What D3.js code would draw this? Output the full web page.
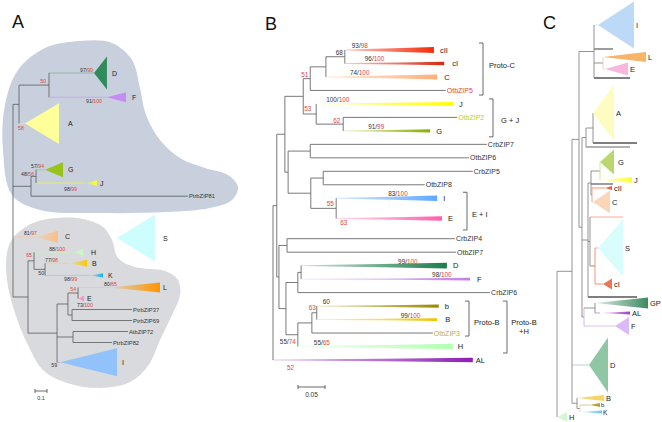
<!DOCTYPE html>
<html><head><meta charset="utf-8">
<script src="https://cdn.jsdelivr.net/npm/d3@7/dist/d3.min.js"></script>
<style>html,body{margin:0;padding:0;background:#fff}svg{display:block}text{font-family:"Liberation Sans",Arial,Helvetica,sans-serif}</style>
</head><body>
<svg id="fig" width="662" height="422" viewBox="0 0 662 422"></svg>
<script>
// ====================== DATA ======================
// ---- Panel A : [node, parent, distance from root] ----
const aNodes = [["root","",0],["aA","root",0.05],["aDF","aA",0.30],["D","aDF",0.675],["F","aDF",0.783],["A","aA",0.10],
 ["aGJ81","root",0.15],["aGJ","aGJ81",0.192],["G","aGJ",0.267],["J","aGJ",0.60],["PtrbZIP81","aGJ81",1.458],
 ["C","root",0.183],["a28","root",0.125],["aHBK","a28",0.175],["H","aHBK",0.517],["aBK","aHBK",0.267],["B","aBK",0.475],["K","aBK",0.642],
 ["aBig","a28",0.367],["aX","aBig",0.458],["aLE","aX",0.542],["L","aLE",0.808],["E","aLE",0.55],["a3769","aX",0.492],
 ["PtrbZIP37","a3769",0.992],["PtrbZIP69","a3769",0.992],["a7282","aBig",0.50],["AtbZIP72","a7282",0.958],["PtrbZIP82","a7282",0.825],["I","aBig",0.392]];
// leaf rows
const aLeafRows = [["D",3.0],["F",5.2],["A",7.6],["G",11.8],["J",13.0],["PtrbZIP81",14.2],["C",17.9],["H",19.3],["B",20.3],["K",21.4],
 ["L",22.5],["E",23.5],["PtrbZIP37",24.5],["PtrbZIP69",25.5],["AtbZIP72",26.5],["PtrbZIP82",27.5],["I",29.3]];
// collapsed clades: [clade, depth of deepest member, half spread in rows]
const aClades = [["D",0.783,1.5],["F",0.942,0.45],["A",0.383,1.86],["G",0.417,0.68],["J",0.70,0.25],["C",0.375,0.55],
 ["H",0.583,0.32],["B",0.617,0.32],["K",0.75,0.2],["L",1.225,0.45],["E",0.592,0.27],["I",0.867,1.27]];
const aFree = [["S",0.867,1.183,18.0,2.14]];
// support values [node, NJ/ML (black), Bayesian (red)]
const aSupport = [["D","97","99"],["aDF","","50"],["F","91","100"],["A","","58"],["G","57","94"],["aGJ","48","56"],["J","98","99"],
 ["C","81","97"],["aHBK","","65"],["H","88","100"],["B","77","98"],["aBK","50",""],["K","98","99"],["aLE","","54"],["L","80","65"],
 ["E","73","100"],["I","59",""]];

// ---- Panel B ----
const bNodes = [["root","",0],["b1","root",0.007],["b2","b1",0.022],["b3","b2",0.056],["b4","b3",0.069],["b5","b4",0.098],["b6","b5",0.133],
 ["cII","b6",0.298],["cI","b6",0.317],["C","b5",0.304],["OtbZIP5","b4",0.320],["b7","b3",0.080],["J","b7",0.335],["b8","b7",0.130],
 ["OtbZIP2","b8",0.341],["G","b8",0.291],["b9","b2",0.028],["b10","b9",0.069],["CrbZIP7","b10",0.396],["OtbZIP6","b10",0.363],
 ["b11","b9",0.070],["b12","b11",0.093],["CrbZIP5","b12",0.370],["OtbZIP8","b12",0.281],["b13","b11",0.117],["I","b13",0.304],["E","b13",0.313],
 ["b1p","b1",0.011],["b14","b1p",0.026],["CrbZIP4","b14",0.337],["OtbZIP7","b14",0.339],["b15","b1p",0.024],["b16","b15",0.046],
 ["b18","b16",0.052],["D","b18",0.322],["F","b18",0.365],["CrbZIP6","b16",0.402],["b17","b15",0.046],["b19","b17",0.072],["b20","b19",0.081],
 ["b","b20",0.307],["B","b20",0.304],["OtbZIP3","b19",0.296],["H","b17",0.333],["AL","root",0.370]];
const bLeafRows = [["cII",0],["cI",1],["C",2],["OtbZIP5",3],["J",4],["OtbZIP2",5],["G",6],["CrbZIP7",7],["OtbZIP6",8],["CrbZIP5",9],
 ["OtbZIP8",10],["I",11],["E",12.5],["CrbZIP4",14],["OtbZIP7",15],["D",16],["F",17],["CrbZIP6",18],["b",19],["B",20],["OtbZIP3",21],["H",22],["AL",23]];
// clade wedges: [clade, half spread in rows]
const bClades = [["cII",0.22],["cI",0.13],["C",0.19],["J",0.15],["G",0.12],["I",0.21],["E",0.17],["D",0.21],["F",0.1],["b",0.12],["B",0.1],["H",0.2],["AL",0.16]];
const bSupport = [["cII","93","98"],["cI","96","100"],["b6","68",""],["C","74","100"],["b4","","51"],["J","100","100"],["b7","","53"],
 ["b8","","62"],["G","91","99"],["I","83","100"],["b13","","55"],["E","","63"],["D","99","100"],["F","98","100"],["b","60",""],
 ["b20","","63"],["B","99","100"],["b17","55","74"],["H","55","65"],["AL","","52"]];
const bGroups = [["Proto-C","cII","OtbZIP5"],["G + J","J","G"],["E + I","I","E"],["Proto-B","b","OtbZIP3"],["Proto-B|+H","b","H"]];

// ---- Panel C ----
const cNodes = [["R0","",0],["N1","R0",0.15],["N2","N1",0.22],["T","N2",0.37],["I","T",0.41],["leafC1","T",0.56],["NLE","T",0.46],
 ["L","NLE",0.46],["E","NLE",0.48],["leafC2","T",0.73],["N3","N2",0.25],["NA","N3",0.29],["NA2","NA",0.36],["A","NA2",0.36],
 ["leafC3","NA2",0.80],["leafC4","NA",0.73],["N4","N3",0.31],["NGJC","N4",0.34],["NGJ","NGJC",0.43],["G","NGJ",0.43],["J","NGJ",0.43],
 ["leafC5","NGJC",0.56],["NC","NGJC",0.35],["cII","NC",0.48],["C","NC",0.36],["NS","N4",0.33],["leafC6","NS",0.66],["NS2","NS",0.38],
 ["S","NS2",0.41],["cI","NS2",0.46],["leafC7","N4",0.80],["NGF","N3",0.27],["NGP","NGF",0.38],["GP","NGP",0.38],["AL","NGP",0.43],
 ["F","NGF",0.58],["D","N1",0.32],["NB","N1",0.20],["B","NB",0.21],["NbK","NB",0.23],["b","NbK",0.33],["K","NbK",0.23],["H","R0",0.0]];
const cLeafRows = [["I",0.5],["leafC1",2.9],["L",3.7],["E",4.9],["leafC2",5.8],["A",9.3],["leafC3",12.3],["leafC4",12.7],["G",14.2],
 ["J",16.0],["leafC5",16.4],["cII",16.8],["C",18.2],["leafC6",19.7],["S",22.8],["cI",26.4],["leafC7",27.7],["GP",28.3],["AL",29.3],
 ["F",30.6],["D",34.5],["B",37.8],["b",38.5],["K",39.2],["H",39.7]];
const cClades = [["I",0.77,2.35],["L",0.89,0.5],["E",0.71,0.65],["A",0.57,2.8],["G",0.57,1.25],["J",0.75,0.3],["cII",0.55,0.2],
 ["C",0.53,1.15],["S",0.66,2.85],["cI",0.55,0.55],["GP",0.91,0.55],["AL",0.73,0.15],["F",0.72,0.9],["D",0.51,2.75],["B",0.47,0.3],
 ["b",0.43,0.2],["K",0.45,0.15],["H",0.10,0.5]];

const scaleBars = [["A",0.1,"0.1"],["B",0.05,"0.05"]];

// ====================== STYLE / LAYOUT ======================
const RED = "#e0443c", BLK = "#333";
const aStyle = {D:{fill:"#2f8b5b",stem:"#7fb597"},F:{fill:"#c58cf2",stem:"#c9a3ee",ldx:6},A:{fill:"#ffff99",stem:"#e8e890",ldx:9},
 G:{fill:"#99c21a",stem:"#a9c86a"},J:{fill:"#ffff22",stem:"#f2f250",grad:true,ldx:3},C:{fill:"#fdbf86",stem:"#f8c9a0",grad:true,ldx:7},
 H:{fill:"#c9f7c4",stem:"#c9ecc4",ldx:8},B:{fill:"#ffc800",stem:"#f1d36a",grad:true},K:{fill:"#14b4ee",stem:"#86d2ee",grad:true},
 L:{fill:"#ff9400",stem:"#f7c58a",grad:true,ldx:3},E:{fill:"#ff8fce",stem:"#f0b0d0",ldx:3},I:{fill:"#92c2fa",stem:"#9aa8b8"},S:{fill:"#cdfdfd"}};
// support label placement: [dx, dy, anchor, fromParent]
const aSupportPos = [[-1,-1,"end"],[-3,-2,"end"],[-5,6,"end"],[-7,6.5,"start"],[-1,-1.5,"end"],[-2,0,"end"],[-8,8,"end"],
 [2,-1.5,"end"],[-2,-3.8,"end"],[-10,-1.5,"end"],[-12,-1.5,"end"],[-1,5.5,"end"],[-13,5.5,"end"],[-2,-2,"end"],[7,-1.5,"end"],
 [-2,8.5,"start"],[-3,4.5,"end"]];
const bStyle = {cII:{fill:"#f52a0a"},cI:{fill:"#d42a10",ldx:8},C:{fill:"#ffb07a",ldx:7},J:{fill:"#ffff00",ldx:5},G:{fill:"#86b300"},
 I:{fill:"#5fa8ff"},E:{fill:"#ff5fae"},D:{fill:"#1d7d4c"},F:{fill:"#c27fe8",ldx:7},b:{fill:"#9c8a00"},B:{fill:"#efc500",ldx:8},
 H:{fill:"#b3ffb3",ldx:5},AL:{fill:"#8e1fb4",ldx:3},OtbZIP5:{text:"#e0443c"},OtbZIP2:{text:"#b8d030"},OtbZIP3:{text:"#c9ad2e"}};
const bSupportPos = [[7,-2,"start",1],[20,-2,"start",1],[-2,-1.5,"end",0],[24,-2,"start",1],[-2,-1.5,"end",0],[10,-2,"start",1],
 [1,-3,"start",1],[17,-1,"start",1],[25,-2,"start",1],[52,-2,"start",1],[16,-2,"start",1],[4,6.5,"start",1],[97,-2,"start",1],
 [131,-2,"start",1],[6,-2,"start",1],[-1,-2.5,"end",0],[84,-2,"start",1],[-2,9.5,"end",0],[16,-2,"start",1],[14,9.5,"start",1]];
// bracket layout: [x, padTop, padBottom, textX, textDy, anchor]
const bGroupPos = [[483,-7,4.6,489,-3.5,"start"],[493,-5,6,501,2.5,"start"],[467,-6,11.5,472,3.5,"start"],
 [469,-5,3,474,4,"start"],[507,-5,6.5,524,-4.5,"middle"]];
const cStyle = {I:{fill:"#bcd9f7",stem:"#c9e0f7"},L:{fill:"#f8b468",stem:"#f8d0a0"},E:{fill:"#f8b7dc",stem:"#f8c8e0"},
 A:{fill:"#fdfdc2",stem:"#eeeec0"},G:{fill:"#b9d76c",stem:"#c8e090",ldx:4},J:{fill:"#ffff3a",grad:true,stem:"#f0f070"},
 cII:{fill:"#f0603f",stem:"#f07a5a"},C:{fill:"#fbd6b8",stem:"#fbd6b8"},S:{fill:"#d9fdfd",stem:"#f09a80"},cI:{fill:"#f07454",stem:"#f07454"},
 GP:{fill:"#3b8b60",grad:true,stem:"#3b8b60"},AL:{fill:"#a43fc6",grad:true,stem:"#c080d8"},F:{fill:"#dcb9f8",stem:"#d0b0f0"},
 D:{fill:"#8fc6a3",stem:"#9fcfc0"},B:{fill:"#f8d468",stem:"#f0d890"},b:{fill:"#b4a23a",stem:"#c8c080",ldx:1,fs:6},
 K:{fill:"#5cc8f0",grad:true,stem:"#90d8f0",ldx:1,fs:6.5,dy:1},H:{fill:"#d3f6d3"},NLE:{vert:"#f8c8a8"},NC:{vert:"#f09070"},NS2:{vert:"#f07a5a"},
 NGJ:{vert:"#c8e070"},NbK:{vert:"#e8d890"},NGF:{vert:"#c8a8e8"},leafC6:{stem:"#f09a80"},leafC2:{stem:"#555",w:1.6},
 leafC7:{stem:"#555",w:1.6},leafC3:{stem:"#555",w:1.4},leafC4:{stem:"#666",w:1.2},leafC1:{stem:"#666",w:1.3},leafC5:{stem:"#666",w:1.3}};

// ====================== DRAW ======================
const svg = d3.select("#fig");
const defs = svg.append("defs");
let gid = 0;
function grad(color, o0, o1){
  const id = "gr" + (gid++);
  const lg = defs.append("linearGradient").attr("id", id).attr("x1","0").attr("x2","1").attr("y1","0").attr("y2","0");
  lg.append("stop").attr("offset","0").attr("stop-color",color).attr("stop-opacity",o0);
  lg.append("stop").attr("offset","1").attr("stop-color",color).attr("stop-opacity",o1);
  return `url(#${id})`;
}
function layoutTree(nodes, rows, xS, yS){
  const root = d3.stratify().id(d=>d[0]).parentId(d=>d[1]===""?null:d[1])(nodes);
  const row = new Map(rows);
  root.eachAfter(n=>{
    n.px = xS(n.data[2]);
    if(n.children){ const ys=n.children.map(c=>c.py); n.ylo=d3.min(ys); n.yhi=d3.max(ys); n.py=(n.ylo+n.yhi)/2; }
    else n.py = yS(row.get(n.id));
  });
  return {root, byId:new Map(root.descendants().map(n=>[n.id,n]))};
}
function drawEdges(g, T, style, stroke, sw, skipStems){
  T.root.descendants().forEach(n=>{
    const s = style[n.id]||{};
    if(n.parent && !(skipStems && skipStems.has(n.id)) && n.px>n.parent.px){
      g.append("line").attr("x1",n.parent.px).attr("x2",n.px).attr("y1",n.py).attr("y2",n.py)
       .attr("stroke",s.stem||stroke).attr("stroke-width",s.w||sw);
    }
  });
  T.root.descendants().forEach(n=>{
    const s = style[n.id]||{};
    if(n.children) g.append("line").attr("x1",n.px).attr("x2",n.px).attr("y1",n.ylo).attr("y2",n.yhi)
       .attr("stroke",s.vert||stroke).attr("stroke-width",sw);
  });
}
function drawTriangles(g, T, clades, style, xS, hs){
  clades.forEach(([id, base, half])=>{
    const n=T.byId.get(id), s=style[id], bx=xS(base), h=hs(half);
    g.append("path").attr("d",`M${n.px},${n.py}L${bx},${n.py-h}L${bx},${n.py+h}Z`)
      .attr("fill", s.grad ? grad(s.fill,0.15,1) : s.fill);
  });
}
function supportText(g, x, y, anchor, bt, rt, size){
  const t = g.append("text").attr("x",x).attr("y",y).attr("text-anchor",anchor).attr("font-size",size);
  if(bt) t.append("tspan").attr("fill",BLK).text(bt + (rt?"/":""));
  if(rt) t.append("tspan").attr("fill",RED).text(rt);
}
function panelLetter(x, y, txt){
  svg.append("text").attr("x",x).attr("y",y).attr("font-size",18).attr("fill","#111").text(txt);
}
function scaleBar(g, x, y, xS, len, label, fs){
  const x2 = x + (xS(len)-xS(0));
  g.append("path").attr("d",`M${x},${y-2}V${y+2}M${x},${y}H${x2}M${x2},${y-2}V${y+2}`).attr("stroke","#444").attr("stroke-width",0.8).attr("fill","none");
  g.append("text").attr("x",(x+x2)/2).attr("y",y+fs+3).attr("text-anchor","middle").attr("font-size",fs).attr("fill","#333").text(label);
}

// ---------- Panel A ----------
const gA = svg.append("g");
const xA = d3.scaleLinear().domain([0,1]).range([13,133]);
const yA = d3.scaleLinear().domain([0,30]).range([40,370]);
const hsA = v => yA(v)-yA(0);
const blobLine = d3.line().curve(d3.curveCatmullRomClosed.alpha(0.5));
const blobUpper = [[3,150],[5,105],[18,70],[45,48],[80,41],[112,43],[132,60],[140,88],[146,115],[160,140],[180,158],[205,168],
 [228,175],[238,187],[232,200],[210,208],[167,212],[100,213],[40,210],[12,195]];
const blobLower = [[13,238],[33,223],[57,218],[83,219],[103,227],[112,240],[118,258],[135,267],[165,271],[178,280],[180,295],
 [172,315],[160,340],[148,366],[130,382],[100,388],[67,383],[43,370],[28,345],[15,313],[7,280],[7,253]];
gA.append("path").attr("d",blobLine(blobUpper)).attr("fill","#c8d0de");
gA.append("path").attr("d",blobLine(blobLower)).attr("fill","#d9dadd");
aFree.forEach(([id,x0,x1,row,half])=>{
  const y=yA(row), h=hsA(half);
  gA.append("path").attr("d",`M${xA(x0)},${y}L${xA(x1)},${y-h}L${xA(x1)},${y+h}Z`).attr("fill",aStyle[id].fill);
  gA.append("text").attr("x",xA(x1)+8).attr("y",y+2.5).attr("font-size",7).attr("fill","#222").text(id);
});
const TA = layoutTree(aNodes, aLeafRows, xA, yA);
drawEdges(gA, TA, aStyle, "#5a5a5a", 0.8);
drawTriangles(gA, TA, aClades, aStyle, xA, hsA);
const aCladeSet = new Map(aClades.map(d=>[d[0],d]));
TA.root.leaves().forEach(n=>{
  const c = aCladeSet.get(n.id);
  if(c){ const s=aStyle[n.id];
    gA.append("text").attr("x",xA(c[1])+(s.ldx||5)).attr("y",n.py+2.5).attr("font-size",7).attr("fill","#222").text(n.id);
  } else {
    gA.append("text").attr("x",n.px+1).attr("y",n.py+2).attr("font-size",5.8).attr("fill","#333").text(n.id);
  }
});
aSupport.forEach((d,i)=>{
  const n=TA.byId.get(d[0]), p=aSupportPos[i];
  supportText(gA, n.px+p[0], n.py+p[1], p[2], d[1], d[2], 5.2);
});
scaleBar(gA, 35, 391, xA, scaleBars[0][1], scaleBars[0][2], 5.5);
panelLetter(12, 28, "A");

// ---------- Panel B ----------
const gB = svg.append("g");
const xB = d3.scaleLinear().domain([0,0.4]).range([273,489]);
const yB = d3.scaleLinear().domain([0,23]).range([50,360]);
const hsB = v => yB(v)-yB(0);
const TB = layoutTree(bNodes, bLeafRows, xB, yB);
const bCladeSet = new Set(bClades.map(d=>d[0]));
drawEdges(gB, TB, bStyle, "#6a6a6a", 0.9, bCladeSet);
bClades.forEach(([id, half])=>{
  const n=TB.byId.get(id), x0=n.parent.px, x1=n.px, y=n.py, h=hsB(half), xm=x0+0.55*(x1-x0);
  gB.append("path").attr("d",`M${x0},${y-0.45}L${xm},${y-0.55*h}L${x1},${y-h}L${x1},${y+h}L${xm},${y+0.55*h}L${x0},${y+0.45}Z`)
    .attr("fill", grad(bStyle[id].fill, 0.22, 1));
});
TB.root.leaves().forEach(n=>{
  const s=bStyle[n.id]||{};
  if(bCladeSet.has(n.id)){
    gB.append("text").attr("x",n.px+(s.ldx||6)).attr("y",n.py+2.7).attr("font-size",7.5).attr("fill","#222").text(n.id);
  } else {
    gB.append("text").attr("x",n.px+1).attr("y",n.py+2.5).attr("font-size",7).attr("fill",s.text||"#333").text(n.id);
  }
});
bSupport.forEach((d,i)=>{
  const n=TB.byId.get(d[0]), p=bSupportPos[i];
  const x = (p[3] ? n.parent.px : n.px) + p[0];
  supportText(gB, x, n.py+p[1], p[2], d[1], d[2], 6.4);
});
bGroups.forEach((d,i)=>{
  const p=bGroupPos[i], y0=TB.byId.get(d[1]).py+p[1], y1=TB.byId.get(d[2]).py+p[2];
  gB.append("path").attr("d",`M${p[0]-4},${y0}H${p[0]}V${y1}H${p[0]-4}`).attr("fill","none").attr("stroke","#444").attr("stroke-width",0.8);
  const lines=d[0].split("|"), mid=(y0+y1)/2;
  lines.forEach((t,k)=>{
    gB.append("text").attr("x",p[3]).attr("y",mid+p[4]+k*9+2.7).attr("text-anchor",p[5]).attr("font-size",7.5).attr("fill","#222").text(t);
  });
});
scaleBar(gB, 298, 387, xB, scaleBars[1][1], scaleBars[1][2], 6.5);
panelLetter(265, 30, "B");

// ---------- Panel C ----------
const gC = svg.append("g");
const xC = d3.scaleLinear().domain([0,1]).range([557,657]);
const yC = d3.scaleLinear().domain([0,40]).range([20,420]);
const hsC = v => yC(v)-yC(0);
const TC = layoutTree(cNodes, cLeafRows, xC, yC);
drawEdges(gC, TC, cStyle, "#7a7a7a", 0.8);
drawTriangles(gC, TC, cClades, cStyle, xC, hsC);
cClades.forEach(([id, base])=>{
  const n=TC.byId.get(id), s=cStyle[id], fs=s.fs||7.5;
  gC.append("text").attr("x",xC(base)+(s.ldx===undefined?2:s.ldx)).attr("y",n.py+fs*0.36+(s.dy||0)).attr("font-size",fs).attr("fill","#222").text(id);
});
panelLetter(543, 29, "C");
</script>
</body></html>
